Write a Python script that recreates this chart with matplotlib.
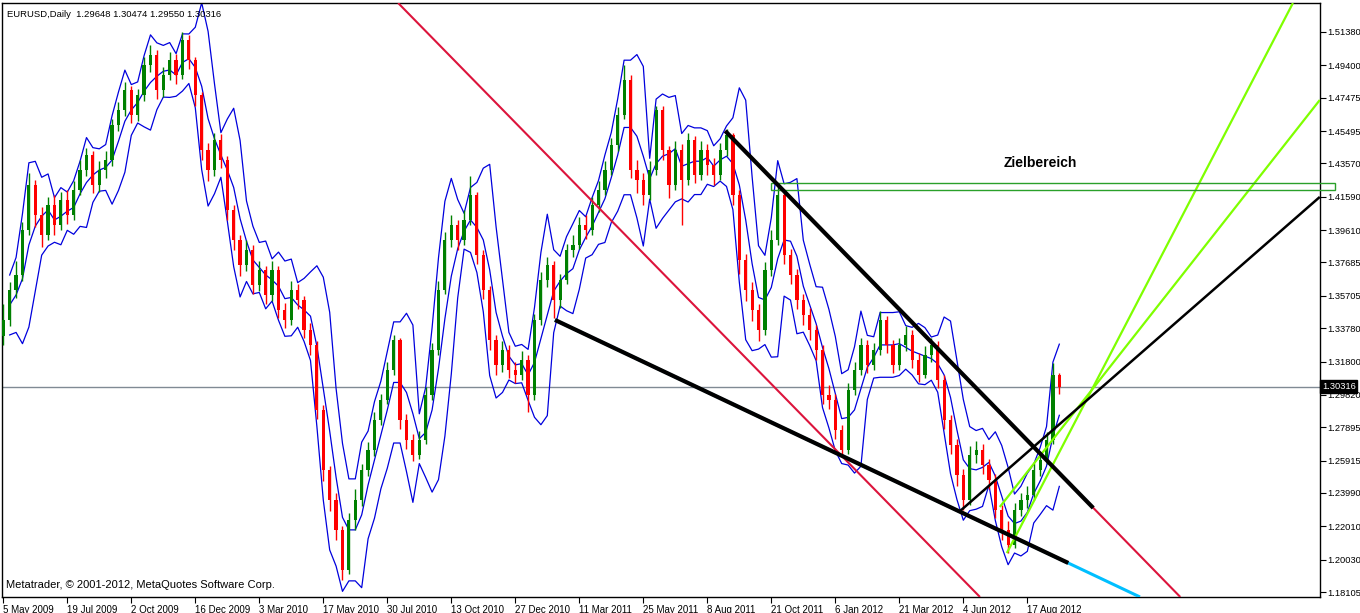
import matplotlib
matplotlib.use("Agg")
import matplotlib.pyplot as plt
import numpy as np
import pandas as pd

# weekly closes (one value per ~6.4 px)
closes = [
    1.3427, 1.3605, 1.3695, 1.3962, 1.4229, 1.4051, 1.3932, 1.4110, 1.3992, 1.4140,
    1.4051, 1.4199, 1.4318, 1.4407, 1.4229, 1.4318, 1.4378, 1.4586, 1.4675, 1.4793,
    1.4645, 1.4764, 1.4942, 1.5001, 1.4793, 1.4883, 1.4972, 1.4883, 1.5090, 1.4972,
    1.4764, 1.4437, 1.4318, 1.4496, 1.4378, 1.4081, 1.3902, 1.3754, 1.3843, 1.3635,
    1.3724, 1.3576, 1.3724, 1.3487, 1.3427, 1.3605, 1.3546, 1.3368, 1.3279, 1.2893,
    1.2536, 1.2358, 1.2180, 1.1942, 1.2239, 1.2358, 1.2536, 1.2655, 1.2833, 1.2952,
    1.3130, 1.3308, 1.2833, 1.2714, 1.2625, 1.2714, 1.2982, 1.3249, 1.3605, 1.3902,
    1.3992, 1.3902, 1.4021, 1.4170, 1.3813, 1.3605, 1.3308, 1.3160, 1.3249, 1.3130,
    1.3101, 1.3190, 1.2982, 1.3427, 1.3665, 1.3754, 1.3546, 1.3665, 1.3843, 1.3873,
    1.3992, 1.3962, 1.4110, 1.4199, 1.4318, 1.4467, 1.4645, 1.4853, 1.4318, 1.4259,
    1.4170, 1.4318, 1.4675, 1.4437, 1.4229, 1.4437, 1.4259, 1.4496, 1.4289, 1.4437,
    1.4348, 1.4289, 1.4437, 1.4526, 1.4170, 1.3784, 1.3605, 1.3487, 1.3368, 1.3724,
    1.3902, 1.4170, 1.3813, 1.3695, 1.3546, 1.3457, 1.3368, 1.3249, 1.2982, 1.2952,
    1.2774, 1.2655, 1.3011, 1.3130, 1.3279, 1.3160, 1.3249, 1.3427, 1.3279, 1.3160,
    1.3279, 1.3338, 1.3190, 1.3101, 1.3219, 1.3279, 1.3071, 1.2833, 1.2685, 1.2507,
    1.2358, 1.2625, 1.2655, 1.2566, 1.2477, 1.2299, 1.2180, 1.2091, 1.2299, 1.2358,
    1.2388, 1.2536, 1.2596, 1.2714, 1.3101, 1.30316,
]
highs = [
    1.3520, 1.3650, 1.3780, 1.4010, 1.4300, 1.4260, 1.4100, 1.4160, 1.4170, 1.4190,
    1.4200, 1.4250, 1.4380, 1.4450, 1.4430, 1.4370, 1.4430, 1.4620, 1.4720, 1.4840,
    1.4820, 1.4800, 1.4990, 1.5060, 1.5030, 1.4930, 1.5020, 1.5010, 1.5140, 1.5120,
    1.4990, 1.4780, 1.4480, 1.4540, 1.4530, 1.4400, 1.4110, 1.3930, 1.3900, 1.3870,
    1.3780, 1.3750, 1.3780, 1.3750, 1.3530, 1.3660, 1.3640, 1.3570, 1.3410, 1.3300,
    1.2920, 1.2560, 1.2400, 1.2200, 1.2280, 1.2420, 1.2570, 1.2700, 1.2880, 1.2990,
    1.3180, 1.3340, 1.3320, 1.2870, 1.2750, 1.2770, 1.3030, 1.3290, 1.3660, 1.3950,
    1.4050, 1.4020, 1.4080, 1.4280, 1.4190, 1.3840, 1.3630, 1.3340, 1.3300, 1.3280,
    1.3180, 1.3240, 1.3220, 1.3460, 1.3710, 1.3800, 1.3780, 1.3700, 1.3880, 1.3930,
    1.4040, 1.4050, 1.4160, 1.4250, 1.4370, 1.4510, 1.4690, 1.4940, 1.4880, 1.4380,
    1.4300, 1.4370, 1.4700, 1.4700, 1.4460, 1.4490, 1.4470, 1.4540, 1.4520, 1.4490,
    1.4470, 1.4390, 1.4480, 1.4560, 1.4540, 1.4200, 1.3820, 1.3650, 1.3520, 1.3770,
    1.3960, 1.4240, 1.4200, 1.3850, 1.3730, 1.3580, 1.3500, 1.3400, 1.3280, 1.3040,
    1.2990, 1.2800, 1.3050, 1.3180, 1.3320, 1.3310, 1.3290, 1.3480, 1.3450, 1.3310,
    1.3320, 1.3390, 1.3370, 1.3230, 1.3270, 1.3320, 1.3300, 1.3100, 1.2860, 1.2720,
    1.2540, 1.2680, 1.2710, 1.2690, 1.2600, 1.2510, 1.2330, 1.2230, 1.2340, 1.2400,
    1.2440, 1.2580, 1.2640, 1.2760, 1.3170, 1.3110,
]
lows = [
    1.3280, 1.3390, 1.3560, 1.3660, 1.3930, 1.3980, 1.3860, 1.3900, 1.3930, 1.3960,
    1.4000, 1.4020, 1.4170, 1.4280, 1.4180, 1.4190, 1.4270, 1.4340, 1.4550, 1.4640,
    1.4600, 1.4610, 1.4730, 1.4900, 1.4740, 1.4750, 1.4850, 1.4830, 1.4860, 1.4920,
    1.4700, 1.4380, 1.4250, 1.4280, 1.4330, 1.4020, 1.3840, 1.3690, 1.3720, 1.3580,
    1.3600, 1.3520, 1.3540, 1.3440, 1.3380, 1.3400, 1.3490, 1.3320, 1.3220, 1.2840,
    1.2470, 1.2290, 1.2120, 1.1880, 1.1920, 1.2180, 1.2320, 1.2500, 1.2620, 1.2800,
    1.2930, 1.3100, 1.2780, 1.2660, 1.2590, 1.2600, 1.2690, 1.2950, 1.3220, 1.3580,
    1.3860, 1.3840, 1.3870, 1.3990, 1.3760, 1.3550, 1.3250, 1.3100, 1.3120, 1.3080,
    1.3050, 1.3070, 1.2880, 1.2950, 1.3400, 1.3620, 1.3440, 1.3500, 1.3640, 1.3800,
    1.3850, 1.3910, 1.3930, 1.4070, 1.4170, 1.4290, 1.4430, 1.4620, 1.4270, 1.4180,
    1.4110, 1.4140, 1.4290, 1.4380, 1.4150, 1.4200, 1.3990, 1.4230, 1.4240, 1.4260,
    1.4290, 1.4230, 1.4260, 1.4400, 1.4110, 1.3700, 1.3540, 1.3420, 1.3300, 1.3340,
    1.3690, 1.3870, 1.3760, 1.3640, 1.3490, 1.3400, 1.3310, 1.3190, 1.2930, 1.2900,
    1.2720, 1.2620, 1.2630, 1.2980, 1.3100, 1.3110, 1.3130, 1.3220, 1.3230, 1.3110,
    1.3130, 1.3240, 1.3140, 1.3060, 1.3080, 1.3180, 1.3020, 1.2780, 1.2630, 1.2440,
    1.2300, 1.2330, 1.2580, 1.2510, 1.2420, 1.2250, 1.2120, 1.2040, 1.2070, 1.2260,
    1.2310, 1.2360, 1.2500, 1.2570, 1.2690, 1.2990,
]
first_open = 1.3330
last_ohlc = [1.29648, 1.30474, 1.29550, 1.30316]

date_ticks = [0, 10, 20, 30, 40, 50, 60, 70, 80, 90, 100, 110, 120, 130, 140, 150, 160]
date_labels = ["5 May 2009", "19 Jul 2009", "2 Oct 2009", "16 Dec 2009", "3 Mar 2010",
               "17 May 2010", "30 Jul 2010", "13 Oct 2010", "27 Dec 2010", "11 Mar 2011",
               "25 May 2011", "8 Aug 2011", "21 Oct 2011", "6 Jan 2012", "21 Mar 2012",
               "4 Jun 2012", "17 Aug 2012"]
price_ticks = [1.51380, 1.49400, 1.47475, 1.45495, 1.43570, 1.41590, 1.39610, 1.37685,
               1.35705, 1.33780, 1.31800, 1.29820, 1.27895, 1.25915, 1.23990, 1.22010,
               1.20030, 1.18105]

# drawn objects: (bar, price) anchor pairs
red_ch1 = [(61.7, 1.5310), (152.6, 1.1781)]
red_ch2 = [(112.8, 1.4550), (183.9, 1.1781)]
black_down = [(112.8, 1.4550), (170.3, 1.2310)]
black_low = [(86.2, 1.3427), (166.4, 1.1983)]
cyan_low = [(86.2, 1.3427), (177.6, 1.1781)]
black_up = [(149.5, 1.2292), (205.7, 1.4158)]
green_a = [(155.7, 1.2316), (205.7, 1.4734)]
green_b = [(156.8, 1.2042), (201.5, 1.5310)]
target_box = [(120.0, 1.4199), (208.1, 1.4241)]
target_text = (162.0, 1.4360, "Zielbereich")

n = len(closes)
x = np.arange(n)
c = np.array(closes)
o = np.concatenate([[first_open], c[:-1]])

s = pd.Series(c)
mid = s.rolling(4, min_periods=2).mean()
dev = s.rolling(4, min_periods=2).std(ddof=0) * 2

fig = plt.figure(figsize=(13.6, 6.13), dpi=100)
ax = fig.add_axes([2 / 1360, 16 / 613, 1318 / 1360, 594 / 613])
ax.set_xlim(-0.2, 205.73)
ax.set_ylim(1.17809, 1.53103)

# bollinger bands
for band in (mid, mid + dev, mid - dev):
    ax.plot(x, band, color="#0000dd", lw=0.9, zorder=2)

# candles
up = c >= o
cols = np.where(up, "#008000", "#ff0000")
ax.vlines(x, lows, highs, colors=cols, lw=1, zorder=3)
ax.bar(x, c - o, bottom=o, width=0.5, color=cols, zorder=3)

# current price line
ax.axhline(last_ohlc[3], color="#808a94", lw=1, zorder=1)

def tline(pts, color, lw, z=4):
    (x1, y1), (x2, y2) = pts
    ax.plot([x1, x2], [y1, y2], color=color, lw=lw, zorder=z, solid_capstyle="butt")

tline(red_ch1, "#dc143c", 1.5)
tline(red_ch2, "#dc143c", 1.5)
tline(cyan_low, "#00bfff", 2.2)
tline(black_low, "black", 3.0, 5)
tline(black_down, "black", 3.0, 5)
tline(black_up, "black", 1.8, 5)
tline(green_a, "#7fff00", 1.6)
tline(green_b, "#7fff00", 1.6)

(bx1, by1), (bx2, by2) = target_box
rect = plt.Rectangle((bx1, by1), bx2 - bx1, by2 - by1, fill=False,
                     edgecolor="#2aa02a", lw=1, zorder=4, clip_on=False)
ax.add_patch(rect)
ax.text(target_text[0], target_text[1], target_text[2], ha="center", va="center",
        fontsize=10, fontweight="bold", family="Liberation Sans", color="black")

# axes styling like the terminal
for sp in ax.spines.values():
    sp.set_color("black")
    sp.set_linewidth(1)
ax.yaxis.tick_right()
ax.set_yticks(price_ticks)
ax.set_yticklabels([f"{p:.5f}" for p in price_ticks], fontsize=6.7, family="Liberation Sans")
ax.tick_params(axis="y", direction="out", length=4, pad=1, colors="black")
ax.set_xticks(date_ticks)
ax.set_xticklabels(date_labels, fontsize=7, family="Liberation Sans", ha="left")
ax.tick_params(axis="x", direction="out", length=4, pad=2, colors="black")

ax.text(1.0015, last_ohlc[3], f"{last_ohlc[3]:.5f}", transform=ax.get_yaxis_transform(),
        fontsize=6.7, color="white", va="center", ha="left", family="Liberation Sans",
        bbox=dict(facecolor="black", edgecolor="black", pad=1.3), clip_on=False, zorder=10)

title = "EURUSD,Daily  " + " ".join(f"{v:.5f}" for v in last_ohlc)
ax.text(0.004, 0.988, title, transform=ax.transAxes, fontsize=6.8, va="top", ha="left",
        family="Liberation Sans")
ax.text(0.003, 0.012, "Metatrader, \u00a9 2001-2012, MetaQuotes Software Corp.",
        transform=ax.transAxes, fontsize=8, va="bottom", ha="left", family="Liberation Sans")

fig.savefig("out.png", dpi=100)
